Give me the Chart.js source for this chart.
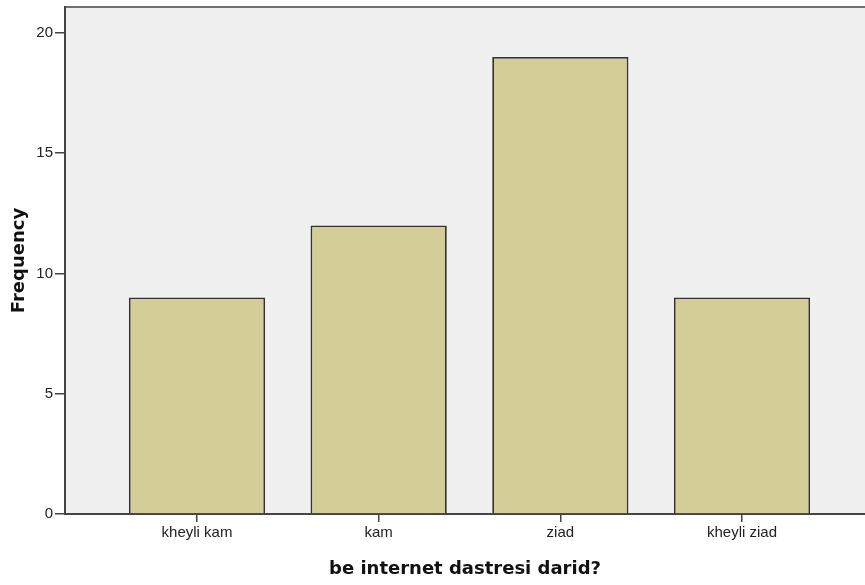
<!DOCTYPE html>
<html>
<head>
<meta charset="utf-8">
<script src="https://cdn.jsdelivr.net/npm/chart.js@4/dist/chart.umd.min.js"></script>
<style>
html,body{margin:0;padding:0;background:#fff;}
#wrap{width:865px;height:585px;position:relative;}
</style>
</head>
<body>
<div id="wrap"><canvas id="c"></canvas></div>
<script>
const categories = ["kheyli kam", "kam", "ziad", "kheyli ziad"];
const frequencies = [9, 12, 19, 9];
const yTicks = [0, 5, 10, 15, 20];
const xTitle = "be internet dastresi darid?";
const yTitle = "Frequency";

const points = categories.map((c, i) => ({ x: i, y: frequencies[i] }));

const plotBg = {
  id: 'plotBg',
  beforeDraw(chart) {
    const { ctx, chartArea: a } = chart;
    ctx.save();
    ctx.fillStyle = '#f0f0f0';
    ctx.fillRect(a.left, a.top, a.right - a.left, a.bottom - a.top);
    ctx.strokeStyle = '#707070';
    ctx.lineWidth = 2;
    ctx.beginPath();
    ctx.moveTo(a.left, a.top);
    ctx.lineTo(a.right, a.top);
    ctx.stroke();
    ctx.restore();
  }
};

new Chart(document.getElementById('c'), {
  type: 'bar',
  data: {
    datasets: [{
      data: points,
      backgroundColor: '#d3ce98',
      borderColor: '#333333',
      borderWidth: 1.8,
      barPercentage: 0.75,
      categoryPercentage: 1
    }]
  },
  options: {
    responsive: true,
    maintainAspectRatio: false,
    animation: false,
    layout: { padding: { top: 7, right: 0, left: 0, bottom: 0 } },
    plugins: { legend: { display: false }, tooltip: { enabled: false } },
    scales: {
      x: {
        type: 'linear',
        offset: false,
        min: -0.7266,
        max: 3.677,
        afterBuildTicks(scale) { scale.ticks = categories.map((c, i) => ({ value: i })); },
        afterFit(scale) { scale.height = 71; scale.paddingLeft = 0; scale.paddingRight = 0; },
        ticks: {
          callback: v => categories[v],
          color: '#222',
          font: { family: 'Liberation Sans', size: 15 },
          padding: 2,
          maxRotation: 0,
          autoSkip: false
        },
        grid: { offset: false, drawOnChartArea: false, drawTicks: true, tickLength: 8, color: '#444', lineWidth: 1.5 },
        border: { display: true, color: '#444', width: 2 },
        title: {
          display: true,
          text: xTitle,
          color: '#111',
          font: { family: 'DejaVu Sans', size: 18, weight: 'bold' },
          padding: { top: 4, bottom: 5 }
        }
      },
      y: {
        min: 0,
        max: 21.08,
        afterBuildTicks(scale) { scale.ticks = yTicks.map(v => ({ value: v })); },
        afterFit(scale) { scale.width = 65; scale.paddingTop = 0; scale.paddingBottom = 0; },
        ticks: {
          color: '#222',
          font: { family: 'Liberation Sans', size: 15 },
          padding: 2
        },
        grid: { drawOnChartArea: false, drawTicks: true, tickLength: 10, color: '#444', lineWidth: 1.5 },
        border: { display: true, color: '#444', width: 2 },
        title: {
          display: true,
          text: yTitle,
          color: '#111',
          font: { family: 'DejaVu Sans', size: 18, weight: 'bold' },
          padding: { top: 9, bottom: 0 }
        }
      }
    }
  },
  plugins: [plotBg]
});
</script>
</body>
</html>
